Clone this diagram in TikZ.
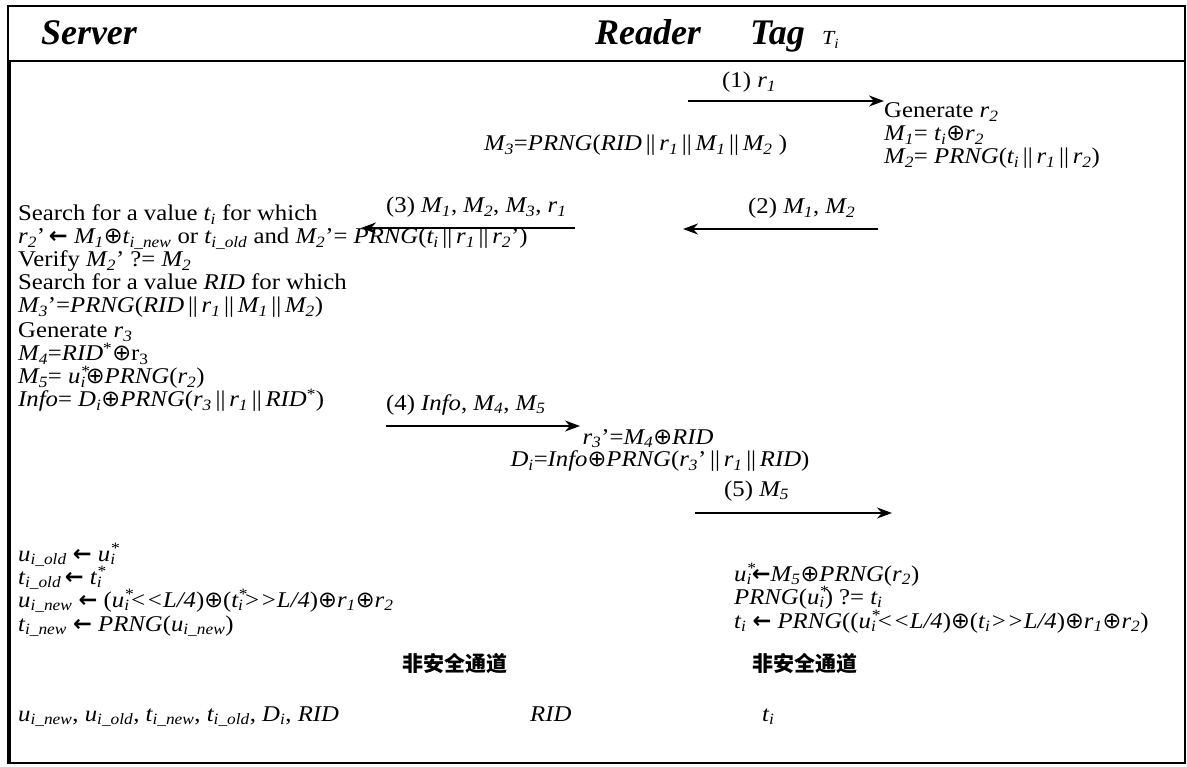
\documentclass[tikz,border=0pt]{standalone}
\usepackage{fontspec}
\setmainfont{Liberation Serif}[FakeStretch=1.1]
\newfontfamily\hfont{Liberation Serif}
\newfontfamily\cjk{Noto Sans CJK SC}
\newfontfamily\symf{DejaVu Sans}
\usetikzlibrary{arrows.meta}
\newcommand\sub[1]{\textsubscript{#1}}
\newcommand\sbsp[2]{\rlap{\textsuperscript{#2}}\textsubscript{#1}}
\newcommand\xor{{\symf\upshape\mdseries ⊕}}
\newcommand\larr{{\symf\upshape\bfseries ←}}
\newcommand\cat{\,\textup{||}\,}
\newcommand\shl{<\kern0pt<}
\newcommand\shr{>\kern0pt>}
\newcommand\bodyfont{\fontsize{22.5}{23}\selectfont}
\begin{document}
\begin{tikzpicture}[x=1pt,y=-1pt,
  txt/.style={anchor=base west,inner sep=0pt,font=\bodyfont},
  head/.style={anchor=base,inner sep=0pt,font=\hfont\fontsize{36}{38}\selectfont\bfseries\itshape},
  msg/.style={-{Stealth[length=15pt,width=11pt]},line width=2.2pt},
  frame/.style={line width=2pt}]
\useasboundingbox (0,0) rectangle (1187,767);
% frames
\draw[frame] (8,6) rectangle (1185,61);
\draw[frame] (8,61) rectangle (1185,763);
\draw[line width=3.5pt] (9,61) -- (9,763);
% header
\node[head] (hs) at (89,45) {Server};
\node[head] (hr) at (648,45) {Reader};
\node[head,anchor=base west] (ht) at (750,45) {Tag};
\node[txt,font=\fontsize{20}{22}\selectfont\itshape,anchor=base west] (hti) at (822,45) {T\sub{i}};
% message 1
\coordinate (a1s) at (688,101); \coordinate (a1e) at (884,101);
\draw[msg] (a1s) -- (a1e);
\node[txt] (l1) at (722,88) {(1) \textit{r\sub{1}}};
\node[txt] (g1) at (884,118) {Generate \textit{r\sub{2}}};
\node[txt] (g2) at (884,141) {\textit{M\sub{1}}= \textit{t\sub{i}}\xor\textit{r\sub{2}}};
\node[txt] (g3) at (884,164) {\textit{M\sub{2}}= \textit{PRNG}(\textit{t\sub{i}}\cat\textit{r\sub{1}}\cat\textit{r\sub{2}})};
\node[txt] (m3) at (484,151) {\textit{M\sub{3}}=\textit{PRNG}(\textit{RID}\cat\textit{r\sub{1}}\cat\textit{M\sub{1}}\cat\textit{M\sub{2}} )};
% message 2
\coordinate (a2s) at (878,229); \coordinate (a2e) at (683,229);
\draw[msg] (a2s) -- (a2e);
\node[txt] (l2) at (748,214) {(2) \textit{M\sub{1}}, \textit{M\sub{2}}};
% message 3
\coordinate (a3s) at (575,228); \coordinate (a3e) at (361,228);
\draw[msg] (a3s) -- (a3e);
\node[txt] (l3) at (386,213) {(3) \textit{M\sub{1}}, \textit{M\sub{2}}, \textit{M\sub{3}}, \textit{r\sub{1}}};
% server block 1
\node[txt] (s1) at (18,221) {Search for a value \textit{t\sub{i}} for which};
\node[txt] (s2) at (18,244) {\textit{r\sub{2}}'\,\larr\ \textit{M\sub{1}}\xor\textit{t\sub{i\_new}} or \textit{t\sub{i\_old}} and \textit{M\sub{2}}'= \textit{PRNG}(\textit{t\sub{i}}\cat\textit{r\sub{1}}\cat\textit{r\sub{2}}')};
\node[txt] (s3) at (18,267) {Verify \textit{M\sub{2}}' ?= \textit{M\sub{2}}};
\node[txt] (s4) at (18,290) {Search for a value \textit{RID} for which};
\node[txt] (s5) at (18,313) {\textit{M\sub{3}}'=\textit{PRNG}(\textit{RID}\cat\textit{r\sub{1}}\cat\textit{M\sub{1}}\cat\textit{M\sub{2}})};
\node[txt] (s6) at (18,338) {Generate \textit{r\sub{3}}};
\node[txt] (s7) at (18,361) {\textit{M\sub{4}}=\textit{RID}\textsuperscript{*}\xor r\sub{3}};
\node[txt] (s8) at (18,384) {\textit{M\sub{5}}= \textit{u\sbsp{i}{*}}\xor\textit{PRNG}(\textit{r\sub{2}})};
\node[txt] (s9) at (18,407) {\textit{Info}= \textit{D\sub{i}}\xor\textit{PRNG}(\textit{r\sub{3}}\cat\textit{r\sub{1}}\cat\textit{RID}\textsuperscript{*})};
% message 4
\coordinate (a4s) at (386,426); \coordinate (a4e) at (580,426);
\draw[msg] (a4s) -- (a4e);
\node[txt] (l4) at (386,410) {(4) \textit{Info}, \textit{M\sub{4}}, \textit{M\sub{5}}};
\node[txt,anchor=base] (r1) at (648,444) {\textit{r\sub{3}}'=\textit{M\sub{4}}\xor\textit{RID}};
\node[txt,anchor=base] (r2) at (660,467) {\textit{D\sub{i}}=\textit{Info}\xor\textit{PRNG}(\textit{r\sub{3}}'\cat\textit{r\sub{1}}\cat\textit{RID})};
% message 5
\coordinate (a5s) at (695,513); \coordinate (a5e) at (892,513);
\draw[msg] (a5s) -- (a5e);
\node[txt] (l5) at (724,496) {(5) \textit{M\sub{5}}};
% server block 2
\node[txt] (u1) at (18,561) {\textit{u\sub{i\_old}} \larr\ \textit{u\sbsp{i}{*}}};
\node[txt] (u2) at (18,584) {\textit{t\sub{i\_old}}\,\larr\ \textit{t\sbsp{i}{*}}};
\node[txt] (u3) at (18,607) {\textit{u\sub{i\_new}} \larr\ (\textit{u\sbsp{i}{*}\shl L/4})\xor(\textit{t\sbsp{i}{*}\shr L/4})\xor\textit{r\sub{1}}\xor\textit{r\sub{2}}};
\node[txt] (u4) at (18,631) {\textit{t\sub{i\_new}} \larr\ \textit{PRNG}(\textit{u\sub{i\_new}})};
% tag block 2
\node[txt] (v1) at (734,581) {\textit{u\sbsp{i}{*}}\larr\textit{M\sub{5}}\xor\textit{PRNG}(\textit{r\sub{2}})};
\node[txt] (v2) at (734,604) {\textit{PRNG}(\textit{u\sbsp{i}{*}}) ?= \textit{t\sub{i}}};
\node[txt] (v3) at (734,628) {\textit{t\sub{i}} \larr\ \textit{PRNG}((\textit{u\sbsp{i}{*}\shl L/4})\xor(\textit{t\sub{i}\shr L/4})\xor\textit{r\sub{1}}\xor\textit{r\sub{2}})};
% channels
\node[txt,font=\fontsize{21}{23}\selectfont\cjk\bfseries] (c1) at (402,671) {非安全通道};
\node[txt,font=\fontsize{21}{23}\selectfont\cjk\bfseries] (c2) at (752,671) {非安全通道};
% bottom
\node[txt] (b1) at (18,721) {\textit{u\sub{i\_new}}, \textit{u\sub{i\_old}}, \textit{t\sub{i\_new}}, \textit{t\sub{i\_old}}, \textit{D\sub{i}}, \textit{RID}};
\node[txt] (b2) at (530,721) {\textit{RID}};
\node[txt] (b3) at (762,721) {\textit{t\sub{i}}};
\end{tikzpicture}
\end{document}
